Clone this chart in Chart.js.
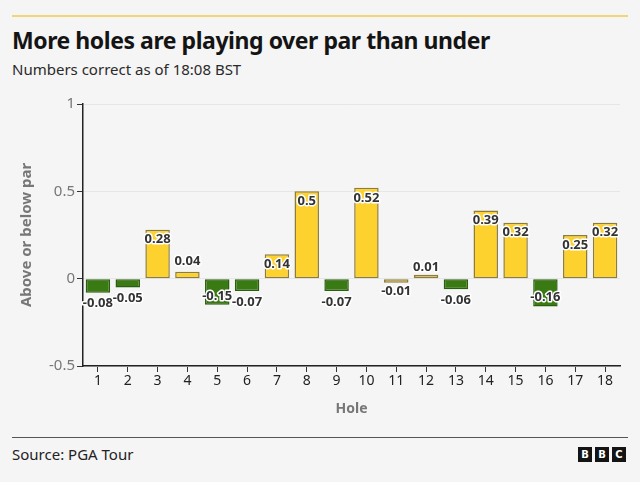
<!DOCTYPE html>
<html><head><meta charset="utf-8">
<script src="https://cdn.jsdelivr.net/npm/chart.js@4"></script>
<style>
html,body{margin:0;padding:0;background:#f5f5f5;width:640px;height:482px;overflow:hidden;font-family:"Noto Sans",sans-serif;}
#topline{position:absolute;left:12px;top:15px;width:616px;height:2px;background:#f2d675;}
#title{position:absolute;left:12px;top:24px;font-size:23px;font-weight:700;color:#141414;letter-spacing:-0.45px;white-space:nowrap;}
#sub{position:absolute;left:12px;top:59px;font-size:15px;color:#2a2a2a;white-space:nowrap;}
#wrap{position:absolute;left:0;top:90px;width:640px;height:340px;}
#foot{position:absolute;left:12px;top:437px;width:616px;height:1px;background:#555;}
#src{position:absolute;left:12px;top:444px;font-size:15px;color:#222;white-space:nowrap;}
#bbc{position:absolute;left:578px;top:447px;display:flex;gap:3px;}
#bbc span{display:block;width:14px;height:15px;background:#141414;color:#fff;font-size:10px;font-weight:700;line-height:15px;text-align:center;font-family:"DejaVu Sans",sans-serif;}
</style></head>
<body>
<div id="topline"></div>
<div id="title">More holes are playing over par than under</div>
<div id="sub">Numbers correct as of 18:08 BST</div>
<div id="wrap"><canvas id="c" width="640" height="340"></canvas></div>
<div id="foot"></div>
<div id="src">Source: PGA Tour</div>
<div id="bbc"><span>B</span><span>B</span><span>C</span></div>
<script>
const holes = ["1","2","3","4","5","6","7","8","9","10","11","12","13","14","15","16","17","18"];
const scores = [-0.08,-0.05,0.28,0.04,-0.15,-0.07,0.14,0.5,-0.07,0.52,-0.01,0.01,-0.06,0.39,0.32,-0.16,0.25,0.32];
const yTicks = [-0.5, 0, 0.5, 1];

const isOver = v => v > -0.02;

const labelPlugin = {
  id: 'barLabels',
  afterDatasetsDraw(chart) {
    const ctx = chart.ctx;
    const meta = chart.getDatasetMeta(0);
    const zero = chart.scales.y.getPixelForValue(0);
    ctx.save();
    ctx.font = 'bold 13px "Noto Sans", sans-serif';
    ctx.textAlign = 'center';
    ctx.textBaseline = 'middle';
    ctx.lineJoin = 'round';
    meta.data.forEach((bar, i) => {
      const v = scores[i];
      const end = chart.scales.y.getPixelForValue(v);
      const h = Math.abs(zero - end);
      let y;
      if (v >= 0) y = h > 20 ? end + 10 : end - 10;
      else y = h > 20 ? end - 9 : end + 11;
      const t = String(v);
      ctx.strokeStyle = '#ffffff';
      ctx.lineWidth = 3;
      ctx.strokeText(t, bar.x, y);
      ctx.fillStyle = '#333333';
      ctx.fillText(t, bar.x, y);
    });
    ctx.restore();
  }
};

new Chart(document.getElementById('c'), {
  type: 'bar',
  data: {
    labels: holes,
    datasets: [{
      data: scores,
      backgroundColor: scores.map(v => Math.abs(v) < 0.02 ? '#e6c965' : (isOver(v) ? '#fdd22f' : '#3a7a12')),
      borderColor: scores.map(v => isOver(v) ? '#8e7d3a' : '#2c5e10'),
      borderWidth: 1.5,
      borderSkipped: false,
      minBarLength: 4,
      barPercentage: 0.82,
      categoryPercentage: 1
    }]
  },
  options: {
    responsive: false,
    animation: false,
    layout: { padding: { left: 0, right: 20, top: 14, bottom: 0 } },
    plugins: { legend: { display: false }, tooltip: { enabled: false } },
    scales: {
      x: {
        offset: true,
        grid: { offset: false, drawOnChartArea: false, drawTicks: true, tickLength: 6, tickColor: '#333', tickWidth: 1 },
        border: { color: '#222', width: 1.5 },
        ticks: { color: '#222', font: { size: 14, family: '"Noto Sans", sans-serif' }, padding: 1, maxRotation: 0, autoSkip: false },
        title: { display: true, text: 'Hole', color: '#777', font: { size: 14, weight: 'bold', family: '"Noto Sans", sans-serif' }, padding: { top: 0, bottom: 13 } },
        afterFit(s) { s.height = 64; }
      },
      y: {
        min: -0.5, max: 1,
        afterBuildTicks(s) { s.ticks = yTicks.map(v => ({ value: v })); },
        grid: { color: '#e6e6e6', tickColor: '#333', tickLength: 6, lineWidth: 1 },
        border: { color: '#222', width: 1.5 },
        ticks: { color: '#777', font: { size: 15, family: '"Noto Sans", sans-serif' }, padding: 2, callback: v => String(v) },
        title: { display: true, text: 'Above or below par', color: '#777', font: { size: 15, weight: 'bold', family: '"Noto Sans", sans-serif' }, padding: { top: 18, bottom: 0 } },
        afterFit(s) { s.width = 83; }
      }
    }
  },
  plugins: [labelPlugin]
});
</script>
</body></html>
